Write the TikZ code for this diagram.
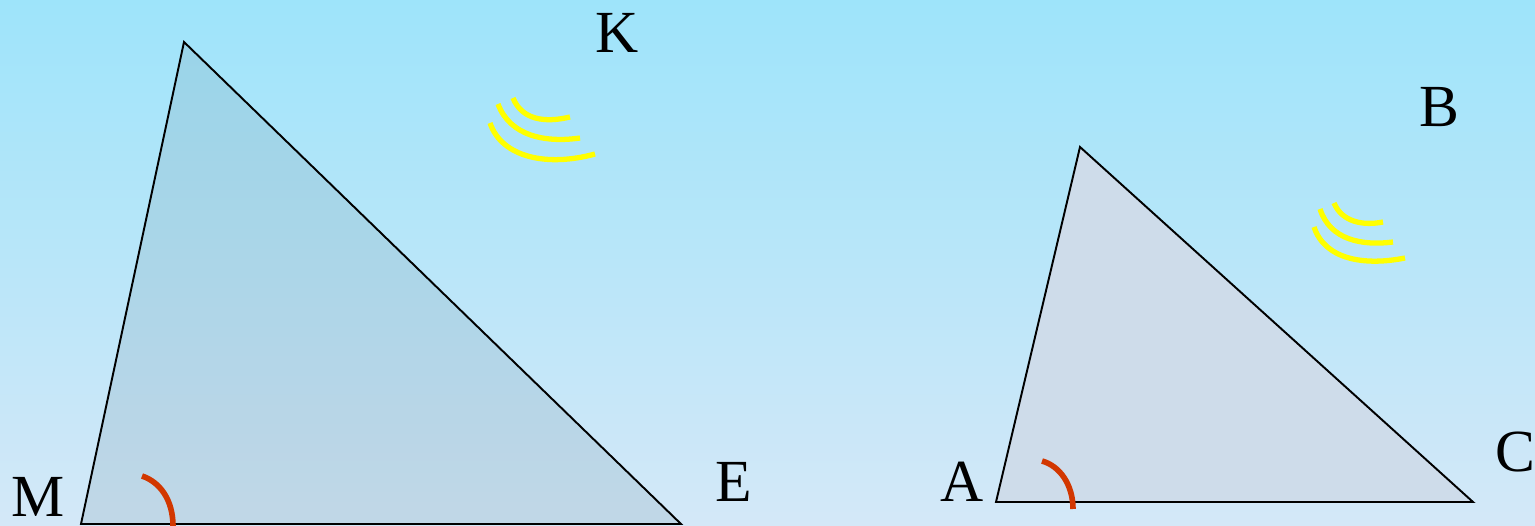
\documentclass[tikz,border=0pt]{standalone}
\usepackage{fontspec}
\setmainfont{Liberation Serif}
\definecolor{bgtop}{RGB}{158,228,250}
\definecolor{bgbot}{RGB}{212,232,248}
\definecolor{leftfill}{RGB}{120,150,165}
\definecolor{rightfill}{RGB}{206,220,234}
\definecolor{arcred}{RGB}{210,55,0}
\definecolor{arcyel}{RGB}{255,255,0}
\begin{document}
\begin{tikzpicture}[x=0.02cm,y=-0.02cm,
  tri/.style={draw=black,line width=1.1pt,line join=miter},
  lbl/.style={font=\fontsize{34}{34}\selectfont,inner sep=0pt},
  yarc/.style={draw=arcyel,line width=3pt},
  rarc/.style={draw=arcred,line width=3.2pt}]
\shade[top color=bgtop,bottom color=bgbot] (0,0) rectangle (1535,526);
\useasboundingbox (0,0) rectangle (1535,526);
% left triangle
\coordinate (M) at (81,524);
\coordinate (K) at (184,42);
\coordinate (E) at (681,524);
\fill[leftfill,fill opacity=0.2] (M) -- (K) -- (E) -- cycle;
\draw[tri] (M) -- (K) -- (E) -- cycle;
% right triangle
\coordinate (A) at (996,502);
\coordinate (B) at (1080,147);
\coordinate (C) at (1473,502);
\fill[rightfill] (A) -- (B) -- (C) -- cycle;
\draw[tri] (A) -- (B) -- (C) -- cycle;
% labels
\node[lbl] (lK) at (617,33) {K};
\node[lbl] (lM) at (38,497) {M};
\node[lbl] (lE) at (734,482) {E};
\node[lbl] (lA) at (962,482) {A};
\node[lbl] (lB) at (1439,107) {B};
\node[lbl] (lC) at (1515,452) {C};
% yellow arcs left
\draw[yarc] (513,98) .. controls (522,120) and (545,123) .. (570,117);
\draw[yarc] (498,104) .. controls (510,136) and (545,143) .. (580,138);
\draw[yarc] (490,123) .. controls (502,158) and (548,167) .. (595,154);
% yellow arcs right
\draw[yarc] (1334,203) .. controls (1342,222) and (1363,226) .. (1383,222);
\draw[yarc] (1320,209) .. controls (1330,240) and (1362,246) .. (1393,242);
\draw[yarc] (1314,227) .. controls (1325,260) and (1365,266) .. (1405,258);
% red arcs
\draw[rarc] (142,476) .. controls (160,482) and (173,500) .. (173,526);
\draw[rarc] (1042,461) .. controls (1060,466) and (1073,485) .. (1073,509);
\end{tikzpicture}
\end{document}
